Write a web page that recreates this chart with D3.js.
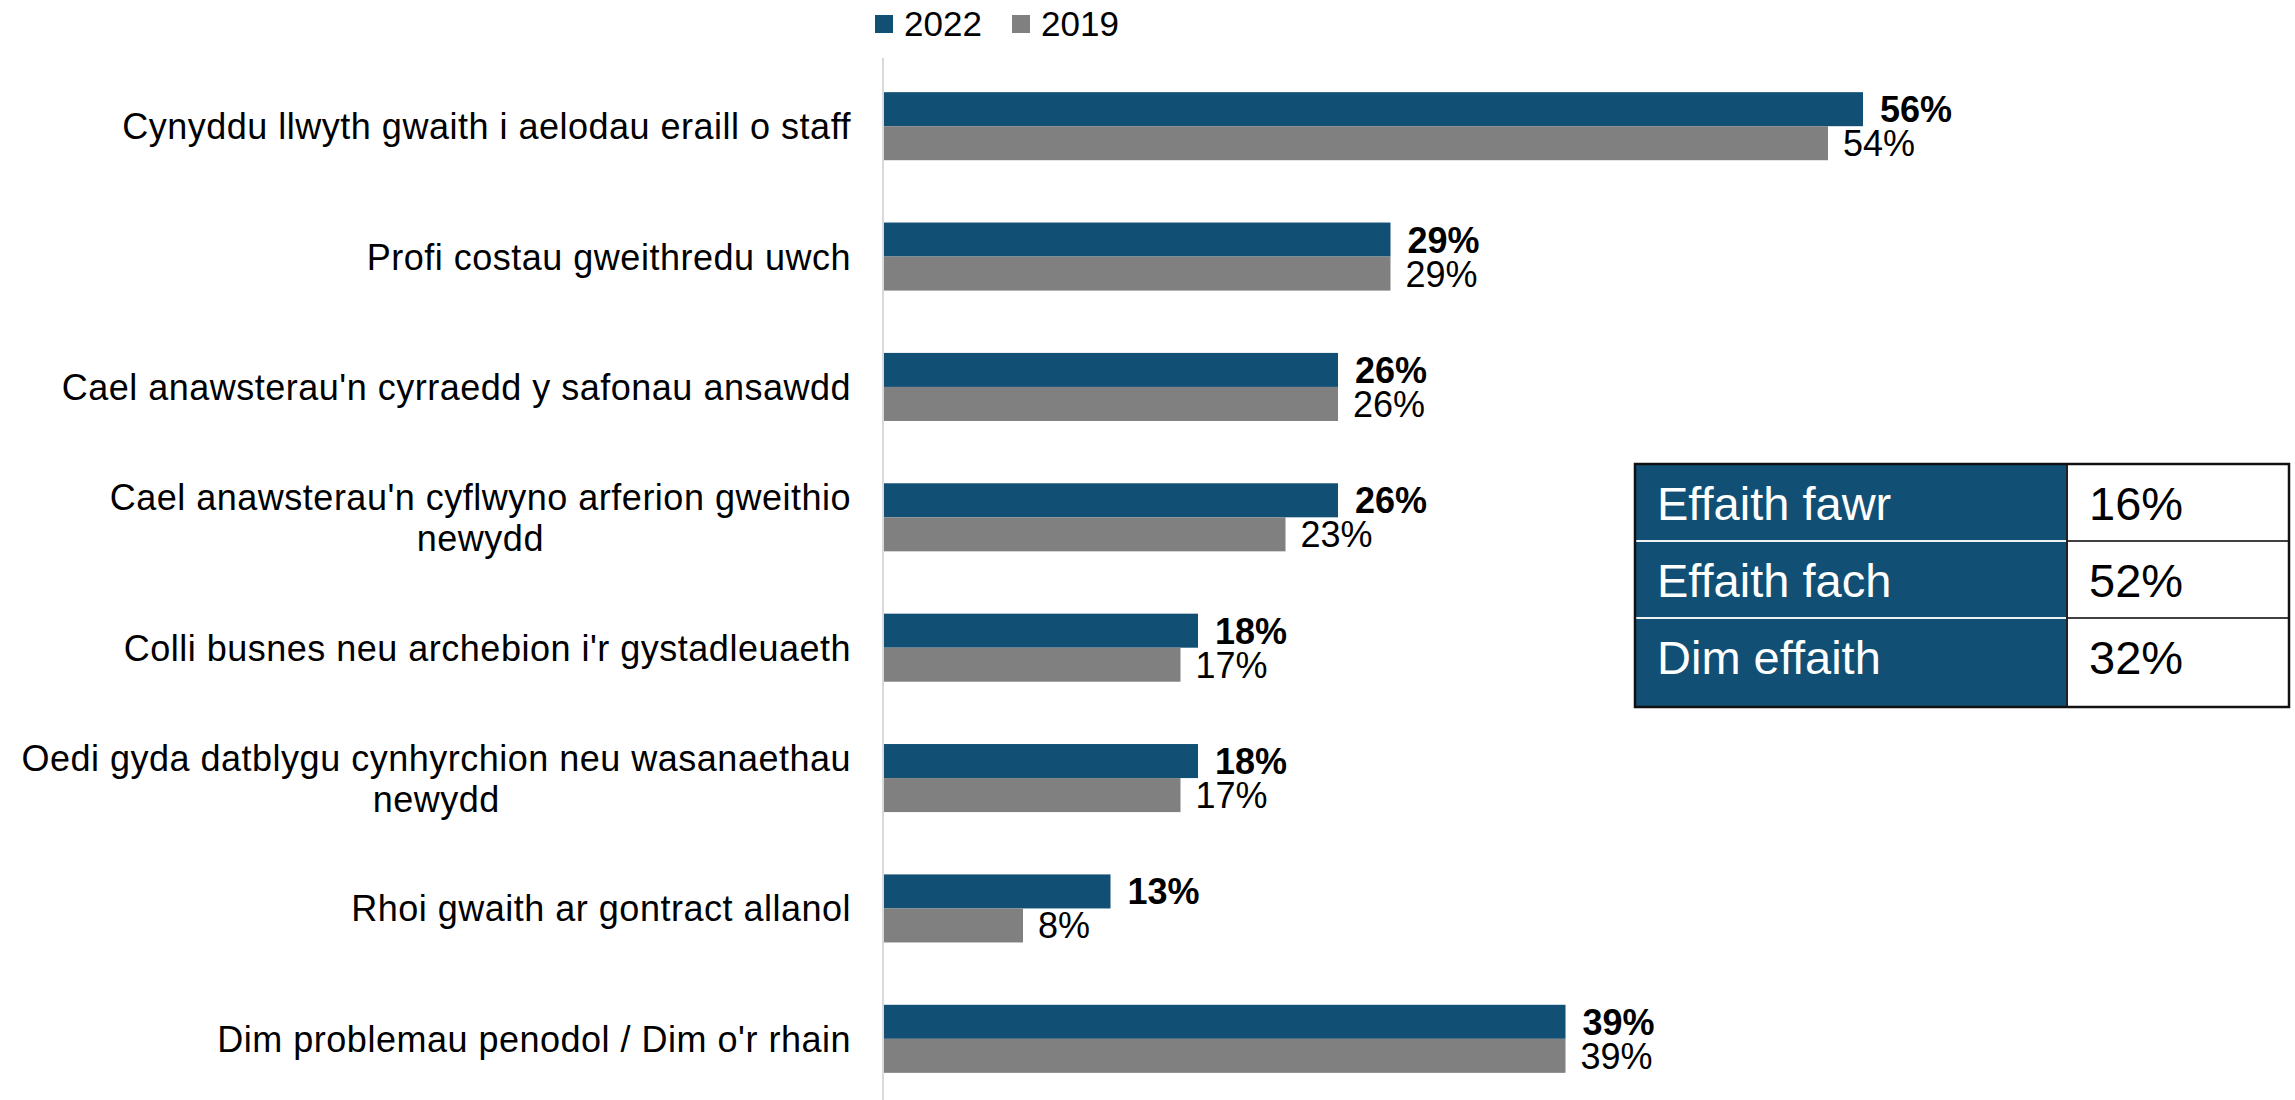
<!DOCTYPE html>
<html>
<head>
<meta charset="utf-8">
<script src="https://cdn.jsdelivr.net/npm/d3@7"></script>
<style>
  html, body { margin: 0; padding: 0; background: #fff; }
  svg { display: block; font-family: "Liberation Sans", Arial, sans-serif; }
</style>
</head>
<body>
<svg id="chart" width="2295" height="1100"></svg>
<script>
// categories (line breaks as in the original)
const categories = [
  "Cynyddu llwyth gwaith i aelodau eraill o staff",
  "Profi costau gweithredu uwch",
  "Cael anawsterau'n cyrraedd y safonau ansawdd",
  "Cael anawsterau'n cyflwyno arferion gweithio\nnewydd",
  "Colli busnes neu archebion i'r gystadleuaeth",
  "Oedi gyda datblygu cynhyrchion neu wasanaethau\nnewydd",
  "Rhoi gwaith ar gontract allanol",
  "Dim problemau penodol / Dim o'r rhain"
]
const series = ["2022", "2019"]
const values2022 = [56, 29, 26, 26, 18, 18, 13, 39]
const values2019 = [54, 29, 26, 23, 17, 17, 8, 39]

// summary table
const impactLabels = ["Effaith fawr", "Effaith fach", "Dim effaith"]
const impactValues = [16, 52, 32]

const colors = { "2022": "#124f74", "2019": "#808080" }

const svg = d3.select('#chart')

const data = categories.map((c, i) => ({
  category: c,
  values: [
    { key: "2022", value: values2022[i] },
    { key: "2019", value: values2019[i] }
  ]
}))

const x = d3.scaleLinear().domain([0, 100]).range([883, 2633])

const y0 = d3.scaleBand()
  .domain(categories)
  .range([61, 1104])
  .paddingInner(0.478)
  .paddingOuter(0.239)

const y1 = d3.scaleBand()
  .domain(series)
  .range([0, y0.bandwidth()])

/* --------- BARS ---------*/
const groups = svg.append('g').attr('class', 'bars')
  .selectAll('g.cat')
  .data(data)
  .enter()
  .append('g')
  .attr('class', 'cat')
  .attr('transform', d => `translate(0,${y0(d.category)})`)

groups.selectAll('rect')
  .data(d => d.values)
  .enter()
  .append('rect')
  .attr('x', x(0))
  .attr('y', d => y1(d.key))
  .attr('width', d => x(d.value) - x(0))
  .attr('height', y1.bandwidth())
  .attr('fill', d => colors[d.key])

groups.selectAll('text.value')
  .data(d => d.values)
  .enter()
  .append('text')
  .attr('class', 'value')
  .attr('x', d => x(d.value) + (d.key === "2022" ? 17 : 15))
  .attr('y', d => y1(d.key) + y1.bandwidth() / 2)
  .attr('dy', '0.36em')
  .attr('font-size', 36)
  .attr('font-weight', d => d.key === "2022" ? 'bold' : 'normal')
  .attr('fill', '#000')
  .text(d => d.value + '%')

/* --------- AXIS LINE ---------*/
svg.append('line')
  .attr('x1', x(0)).attr('x2', x(0))
  .attr('y1', 58).attr('y2', 1100)
  .attr('stroke', '#d9d9d9')
  .attr('stroke-width', 2)

/* --------- CATEGORY LABELS ---------*/
const labelRight = 851
const lineHeight = 41
const labels = svg.append('g').attr('class', 'labels')
categories.forEach(c => {
  const lines = c.split('\n')
  const g = labels.append('g')
  const texts = lines.map(l => g.append('text')
    .attr('font-size', 36)
    .attr('letter-spacing', 0.5)
    .attr('fill', '#000')
    .attr('text-anchor', 'middle')
    .text(l))
  const maxW = d3.max(texts, t => t.node().getComputedTextLength())
  const cx = labelRight - maxW / 2
  const cy = y0(c) + y0.bandwidth() / 2
  texts.forEach((t, i) => {
    t.attr('x', cx)
      .attr('y', cy + (i - (lines.length - 1) / 2) * lineHeight)
      .attr('dy', '0.36em')
  })
})

/* --------- LEGEND ---------*/
const legendPos = [875, 1012]
const legend = svg.append('g').attr('class', 'legend')
series.forEach((s, i) => {
  legend.append('rect')
    .attr('x', legendPos[i]).attr('y', 15)
    .attr('width', 18).attr('height', 18)
    .attr('fill', colors[s])
  legend.append('text')
    .attr('x', legendPos[i] + 29).attr('y', 36)
    .attr('font-size', 35)
    .attr('fill', '#000')
    .text(s)
})

/* --------- TABLE ---------*/
const tLeft = 1635, tMid = 2067, tRight = 2289
const rowEdges = [464, 541, 618, 707]
const table = svg.append('g').attr('class', 'table')
table.append('rect')
  .attr('x', tLeft).attr('y', rowEdges[0])
  .attr('width', tMid - tLeft).attr('height', rowEdges[3] - rowEdges[0])
  .attr('fill', colors["2022"])
table.append('rect')
  .attr('x', tMid).attr('y', rowEdges[0])
  .attr('width', tRight - tMid).attr('height', rowEdges[3] - rowEdges[0])
  .attr('fill', '#fff')
for (let i = 1; i < 3; i++) {
  table.append('line')
    .attr('x1', tLeft).attr('x2', tMid)
    .attr('y1', rowEdges[i]).attr('y2', rowEdges[i])
    .attr('stroke', '#f2f2f2').attr('stroke-width', 2)
  table.append('line')
    .attr('x1', tMid).attr('x2', tRight)
    .attr('y1', rowEdges[i]).attr('y2', rowEdges[i])
    .attr('stroke', '#404040').attr('stroke-width', 2)
}
table.append('line')
  .attr('x1', tMid).attr('x2', tMid)
  .attr('y1', rowEdges[0]).attr('y2', rowEdges[3])
  .attr('stroke', '#222').attr('stroke-width', 2)
table.append('rect')
  .attr('x', tLeft).attr('y', rowEdges[0])
  .attr('width', tRight - tLeft).attr('height', rowEdges[3] - rowEdges[0])
  .attr('fill', 'none')
  .attr('stroke', '#111').attr('stroke-width', 2.5)

impactLabels.forEach((l, i) => {
  table.append('text')
    .attr('x', tLeft + 22).attr('y', rowEdges[i] + 56)
    .attr('font-size', 47).attr('fill', '#fff')
    .text(l)
  table.append('text')
    .attr('x', tMid + 22).attr('y', rowEdges[i] + 56)
    .attr('font-size', 47).attr('fill', '#000')
    .text(impactValues[i] + '%')
})
</script>
</body>
</html>
